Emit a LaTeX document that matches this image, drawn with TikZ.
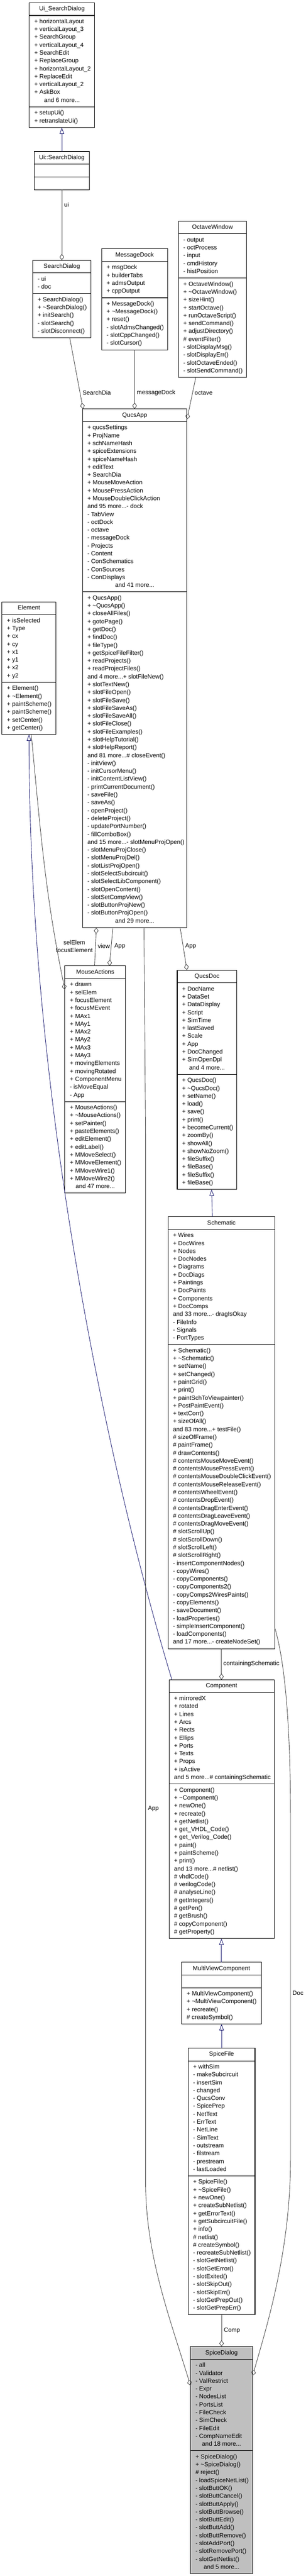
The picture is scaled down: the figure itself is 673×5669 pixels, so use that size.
\documentclass[tikz,border=0pt]{standalone}
\usepackage{fontspec}
\setmainfont{Liberation Sans}
\usetikzlibrary{arrows.meta,calc}
\definecolor{inhblue}{HTML}{191970}
\definecolor{agggray}{HTML}{404040}
\definecolor{sdfill}{HTML}{BFBFBF}
\newdimen\cw
\newcommand\cfont{\fontsize{10}{13}\selectfont}
\newcommand\Ln[1]{\hbox to\cw{\strut#1\hss}}
\newcommand\Lc[1]{\hbox to\cw{\hss\strut#1\hss}}
\def\cfill{white}
\newcommand\umlclass[9]{%
 \node[ctitle, minimum width=#4*0.75pt] (#1) at (#2,#3) {\strut#5};
 \node[cpart, minimum width=#4*0.75pt, minimum height=#6*13pt+8pt] (#1a) at (#1.south west) {\cw=\dimexpr#4pt*3/4-16.5pt\relax\vbox{#7}};
 \node[cpart, minimum width=#4*0.75pt, minimum height=#8*13pt+8pt] (#1m) at (#1a.south west) {\cw=\dimexpr#4pt*3/4-16.5pt\relax\vbox{#9}};
}
\begin{document}
\begin{tikzpicture}[x=0.75pt, y=-0.75pt,
  ctitle/.style={draw=black, line width=0.9pt, fill=\cfill, inner sep=0pt, outer sep=0pt, anchor=north west, minimum height=21pt, font=\cfont},
  cpart/.style={draw=black, line width=0.9pt, fill=\cfill, inner sep=0pt, outer sep=0pt, anchor=north west, font=\cfont},
  inh/.style={draw=inhblue, line width=0.75pt, -{Triangle[open, length=10.5pt, width=7.5pt]}},
  agg/.style={draw=agggray, line width=0.75pt, -{Diamond[open, length=10.5pt, width=7.5pt]}},
  lbl/.style={anchor=west, inner sep=0pt, font=\cfont, align=center}]
\useasboundingbox (0,0) rectangle (673,5669);

% ---------------- classes ----------------
\umlclass{usd}{64.5}{6}{143.6}{Ui\_SearchDialog}{11}{%
\Ln{+ horizontalLayout}\Ln{+ verticalLayout\_3}\Ln{+ SearchGroup}\Ln{+ verticalLayout\_4}\Ln{+ SearchEdit}\Ln{+ ReplaceGroup}\Ln{+ horizontalLayout\_2}\Ln{+ ReplaceEdit}\Ln{+ verticalLayout\_2}\Ln{+ AskBox}\Lc{and 6 more...}}{2}{%
\Ln{+ setupUi()}\Ln{+ retranslateUi()}}

\umlclass{uisd}{75.3}{333.3}{121.7}{Ui::SearchDialog}{1}{}{1}{}

\umlclass{sd}{71.8}{572.7}{128.6}{SearchDialog}{2}{%
\Ln{- ui}\Ln{- doc}}{5}{%
\Ln{+ SearchDialog()}\Ln{+ \textasciitilde SearchDialog()}\Ln{+ initSearch()}\Ln{- slotSearch()}\Ln{- slotDisconnect()}}

\umlclass{md}{223.6}{547.3}{145.3}{MessageDock}{4}{%
\Ln{+ msgDock}\Ln{+ builderTabs}\Ln{+ admsOutput}\Ln{+ cppOutput}}{6}{%
\Ln{+ MessageDock()}\Ln{+ \textasciitilde MessageDock()}\Ln{+ reset()}\Ln{- slotAdmsChanged()}\Ln{- slotCppChanged()}\Ln{- slotCursor()}}

\umlclass{ow}{392.6}{486.7}{150.1}{OctaveWindow}{5}{%
\Ln{- output}\Ln{- octProcess}\Ln{- input}\Ln{- cmdHistory}\Ln{- histPosition}}{12}{%
\Ln{+ OctaveWindow()}\Ln{+ \textasciitilde OctaveWindow()}\Ln{+ sizeHint()}\Ln{+ startOctave()}\Ln{+ runOctaveScript()}\Ln{+ sendCommand()}\Ln{+ adjustDirectory()}\Ln{\# eventFilter()}\Ln{- slotDisplayMsg()}\Ln{- slotDisplayErr()}\Ln{- slotOctaveEnded()}\Ln{- slotSendCommand()}}

\umlclass{qa}{181.5}{900}{230}{QucsApp}{21}{%
\Ln{+ qucsSettings}\Ln{+ ProjName}\Ln{+ schNameHash}\Ln{+ spiceExtensions}\Ln{+ spiceNameHash}\Ln{+ editText}\Ln{+ SearchDia}\Ln{+ MouseMoveAction}\Ln{+ MousePressAction}\Ln{+ MouseDoubleClickAction}\Ln{and 95 more...- dock}\Ln{- TabView}\Ln{- octDock}\Ln{- octave}\Ln{- messageDock}\Ln{- Projects}\Ln{- Content}\Ln{- ConSchematics}\Ln{- ConSources}\Ln{- ConDisplays}\Lc{and 41 more...}}{42}{%
\Ln{+ QucsApp()}\Ln{+ \textasciitilde QucsApp()}\Ln{+ closeAllFiles()}\Ln{+ gotoPage()}\Ln{+ getDoc()}\Ln{+ findDoc()}\Ln{+ fileType()}\Ln{+ getSpiceFileFilter()}\Ln{+ readProjects()}\Ln{+ readProjectFiles()}\Ln{and 4 more...+ slotFileNew()}\Ln{+ slotTextNew()}\Ln{+ slotFileOpen()}\Ln{+ slotFileSave()}\Ln{+ slotFileSaveAs()}\Ln{+ slotFileSaveAll()}\Ln{+ slotFileClose()}\Ln{+ slotFileExamples()}\Ln{+ slotHelpTutorial()}\Ln{+ slotHelpReport()}\Ln{and 81 more...\# closeEvent()}\Ln{- initView()}\Ln{- initCursorMenu()}\Ln{- initContentListView()}\Ln{- printCurrentDocument()}\Ln{- saveFile()}\Ln{- saveAs()}\Ln{- openProject()}\Ln{- deleteProject()}\Ln{- updatePortNumber()}\Ln{- fillComboBox()}\Ln{and 15 more...- slotMenuProjOpen()}\Ln{- slotMenuProjClose()}\Ln{- slotMenuProjDel()}\Ln{- slotListProjOpen()}\Ln{- slotSelectSubcircuit()}\Ln{- slotSelectLibComponent()}\Ln{- slotOpenContent()}\Ln{- slotSetCompView()}\Ln{- slotButtonProjNew()}\Ln{- slotButtonProjOpen()}\Lc{and 29 more...}}

\umlclass{el}{4.3}{1324.3}{119.1}{Element}{8}{%
\Ln{+ isSelected}\Ln{+ Type}\Ln{+ cx}\Ln{+ cy}\Ln{+ x1}\Ln{+ y1}\Ln{+ x2}\Ln{+ y2}}{6}{%
\Ln{+ Element()}\Ln{+ \textasciitilde Element()}\Ln{+ paintScheme()}\Ln{+ paintScheme()}\Ln{+ setCenter()}\Ln{+ getCenter()}}

\umlclass{ma}{142.8}{2125.7}{133.7}{MouseActions}{15}{%
\Ln{+ drawn}\Ln{+ selElem}\Ln{+ focusElement}\Ln{+ focusMEvent}\Ln{+ MAx1}\Ln{+ MAy1}\Ln{+ MAx2}\Ln{+ MAy2}\Ln{+ MAx3}\Ln{+ MAy3}\Ln{+ movingElements}\Ln{+ movingRotated}\Ln{+ ComponentMenu}\Ln{- isMoveEqual}\Ln{- App}}{11}{%
\Ln{+ MouseActions()}\Ln{+ \textasciitilde MouseActions()}\Ln{+ setPainter()}\Ln{+ pasteElements()}\Ln{+ editElement()}\Ln{+ editLabel()}\Ln{+ MMoveSelect()}\Ln{+ MMoveElement()}\Ln{+ MMoveWire1()}\Ln{+ MMoveWire2()}\Lc{and 47 more...}}

\umlclass{qd}{390}{2135}{131.2}{QucsDoc}{11}{%
\Ln{+ DocName}\Ln{+ DataSet}\Ln{+ DataDisplay}\Ln{+ Script}\Ln{+ SimTime}\Ln{+ lastSaved}\Ln{+ Scale}\Ln{+ App}\Ln{+ DocChanged}\Ln{+ SimOpenDpl}\Lc{and 4 more...}}{14}{%
\Ln{+ QucsDoc()}\Ln{+ \textasciitilde QucsDoc()}\Ln{+ setName()}\Ln{+ load()}\Ln{+ save()}\Ln{+ print()}\Ln{+ becomeCurrent()}\Ln{+ zoomBy()}\Ln{+ showAll()}\Ln{+ showNoZoom()}\Ln{+ fileSuffix()}\Ln{+ fileBase()}\Ln{+ fileSuffix()}\Ln{+ fileBase()}}

\umlclass{sch}{369.8}{2677.7}{235.2}{Schematic}{14}{%
\Ln{+ Wires}\Ln{+ DocWires}\Ln{+ Nodes}\Ln{+ DocNodes}\Ln{+ Diagrams}\Ln{+ DocDiags}\Ln{+ Paintings}\Ln{+ DocPaints}\Ln{+ Components}\Ln{+ DocComps}\Ln{and 33 more...- dragIsOkay}\Ln{- FileInfo}\Ln{- Signals}\Ln{- PortTypes}}{38}{%
\Ln{+ Schematic()}\Ln{+ \textasciitilde Schematic()}\Ln{+ setName()}\Ln{+ setChanged()}\Ln{+ paintGrid()}\Ln{+ print()}\Ln{+ paintSchToViewpainter()}\Ln{+ PostPaintEvent()}\Ln{+ textCorr()}\Ln{+ sizeOfAll()}\Ln{and 83 more...+ testFile()}\Ln{\# sizeOfFrame()}\Ln{\# paintFrame()}\Ln{\# drawContents()}\Ln{\# contentsMouseMoveEvent()}\Ln{\# contentsMousePressEvent()}\Ln{\# contentsMouseDoubleClickEvent()}\Ln{\# contentsMouseReleaseEvent()}\Ln{\# contentsWheelEvent()}\Ln{\# contentsDropEvent()}\Ln{\# contentsDragEnterEvent()}\Ln{\# contentsDragLeaveEvent()}\Ln{\# contentsDragMoveEvent()}\Ln{\# slotScrollUp()}\Ln{\# slotScrollDown()}\Ln{\# slotScrollLeft()}\Ln{\# slotScrollRight()}\Ln{- insertComponentNodes()}\Ln{- copyWires()}\Ln{- copyComponents()}\Ln{- copyComponents2()}\Ln{- copyComps2WiresPaints()}\Ln{- copyElements()}\Ln{- saveDocument()}\Ln{- loadProperties()}\Ln{- simpleInsertComponent()}\Ln{- loadComponents()}\Ln{and 17 more...- createNodeSet()}}

\umlclass{cmp}{372}{3696.7}{231.3}{Component}{11}{%
\Ln{+ mirroredX}\Ln{+ rotated}\Ln{+ Lines}\Ln{+ Arcs}\Ln{+ Rects}\Ln{+ Ellips}\Ln{+ Ports}\Ln{+ Texts}\Ln{+ Props}\Ln{+ isActive}\Ln{and 5 more...\# containingSchematic}}{19}{%
\Ln{+ Component()}\Ln{+ \textasciitilde Component()}\Ln{+ newOne()}\Ln{+ recreate()}\Ln{+ getNetlist()}\Ln{+ get\_VHDL\_Code()}\Ln{+ get\_Verilog\_Code()}\Ln{+ paint()}\Ln{+ paintScheme()}\Ln{+ print()}\Ln{and 13 more...\# netlist()}\Ln{\# vhdlCode()}\Ln{\# verilogCode()}\Ln{\# analyseLine()}\Ln{\# getIntegers()}\Ln{\# getPen()}\Ln{\# getBrush()}\Ln{\# copyComponent()}\Ln{\# getProperty()}}

\umlclass{mvc}{399.9}{4318.3}{175}{MultiViewComponent}{1}{}{4}{%
\Ln{+ MultiViewComponent()}\Ln{+ \textasciitilde MultiViewComponent()}\Ln{+ recreate()}\Ln{\# createSymbol()}}

\umlclass{sf}{414.1}{4507.3}{147.1}{SpiceFile}{14}{%
\Ln{+ withSim}\Ln{- makeSubcircuit}\Ln{- insertSim}\Ln{- changed}\Ln{- QucsConv}\Ln{- SpicePrep}\Ln{- NetText}\Ln{- ErrText}\Ln{- NetLine}\Ln{- SimText}\Ln{- outstream}\Ln{- filstream}\Ln{- prestream}\Ln{- lastLoaded}}{17}{%
\Ln{+ SpiceFile()}\Ln{+ \textasciitilde SpiceFile()}\Ln{+ newOne()}\Ln{+ createSubNetlist()}\Ln{+ getErrorText()}\Ln{+ getSubcircuitFile()}\Ln{+ info()}\Ln{\# netlist()}\Ln{\# createSymbol()}\Ln{- recreateSubNetlist()}\Ln{- slotGetNetlist()}\Ln{- slotGetError()}\Ln{- slotExited()}\Ln{- slotSkipOut()}\Ln{- slotSkipErr()}\Ln{- slotGetPrepOut()}\Ln{- slotGetPrepErr()}}

\def\cfill{sdfill}
\umlclass{sdg}{419.3}{5164}{136.7}{SpiceDialog}{11}{%
\Ln{- all}\Ln{- Validator}\Ln{- ValRestrict}\Ln{- Expr}\Ln{- NodesList}\Ln{- PortsList}\Ln{- FileCheck}\Ln{- SimCheck}\Ln{- FileEdit}\Ln{- CompNameEdit}\Lc{and 18 more...}}{15}{%
\Ln{+ SpiceDialog()}\Ln{+ \textasciitilde SpiceDialog()}\Ln{\# reject()}\Ln{- loadSpiceNetList()}\Ln{- slotButtOK()}\Ln{- slotButtCancel()}\Ln{- slotButtApply()}\Ln{- slotButtBrowse()}\Ln{- slotButtEdit()}\Ln{- slotButtAdd()}\Ln{- slotButtRemove()}\Ln{- slotAddPort()}\Ln{- slotRemovePort()}\Ln{- slotGetNetlist()}\Lc{and 5 more...}}

% ---------------- connectors ----------------
\draw[inh] (uisd.north) -- (uisd.north |- usdm.south);
\draw[agg] (uisdm.south) -- (uisdm.south |- sd.north);
\node[lbl] (l-ui) at (141,450.7) {ui};

\draw[agg] ($(sdm.south west)+(81.7,0)$) -- ($(qa.north west)+(1.3,0)$);
\node[lbl] (l-sdia) at (181.5,864.3) {SearchDia};

\draw[agg] (mdm.south) -- (mdm.south |- qa.north);
\node[lbl] (l-md) at (301,864.3) {messageDock};

\draw[agg] ($(owm.south west)+(38.3,0)$) -- ($(qa.north east)+(0,23)$);
\node[lbl] (l-oct) at (428.3,864.3) {octave};

\draw[agg] ($(elm.south)+(5,0)$) .. controls (90,1840) and (100,1970) .. ($(maa.north west)+(0,24.3)$);
\node[lbl, anchor=center] (l-sel) at (163.5,2082.7) {selElem\\focusElement};

\draw[inh] ($(cmp.north west)+(6.4,0)$) .. controls (228,3200) and (64.5,2400) .. (elm.south);

\draw[agg] ($(ma.north west)+(65.3,0)$) -- ($(qam.south west)+(30.5,0)$);
\node[lbl] (l-view) at (215,2082.3) {view};
\draw[agg] ($(qam.south west)+(67,0)$) -- ($(ma.north west)+(98,0)$);
\node[lbl] (l-app1) at (251.6,2082.3) {App};

\draw[agg] ($(qam.south west)+(215,0)$) -- ($(qd.north west)+(21.5,0)$);
\node[lbl] (l-app2) at (407.6,2082.3) {App};

\draw[agg] ($(qam.south west)+(135.4,0)$) -- (320.4,2500) -- (320.4,4800) .. controls (320.4,4960) and (370,5090) .. ($(sdga.north west)+(0,58)$);
\node[lbl] (l-app3) at (325.5,3980) {App};

\draw[inh] ($(sch.north west)+(97.6,0)$) -- ($(qdm.south west)+(75.7,0)$);

\draw[agg] (schm.south) -- (schm.south |- cmp.north);
\node[lbl] (l-cs) at (491.5,3661.7) {containingSchematic};

\draw[agg] ($(schm.north east)+(0,624)$) .. controls (625,3650) and (639.4,3780) .. (639.4,4000) -- (639.4,4750) .. controls (639.4,4950) and (590,5110) .. ($(sdga.north east)+(0,36)$);
\node[lbl] (l-doc) at (643.7,4385.7) {Doc};

\draw[inh] (mvc.north) -- (mvc.north |- cmpm.south);
\draw[inh] (sf.north) -- (sf.north |- mvcm.south);

\draw[agg] (sfm.south) -- (sfm.south |- sdg.north);
\node[lbl] (l-comp) at (492.4,5128.4) {Comp};
\end{tikzpicture}
\end{document}
